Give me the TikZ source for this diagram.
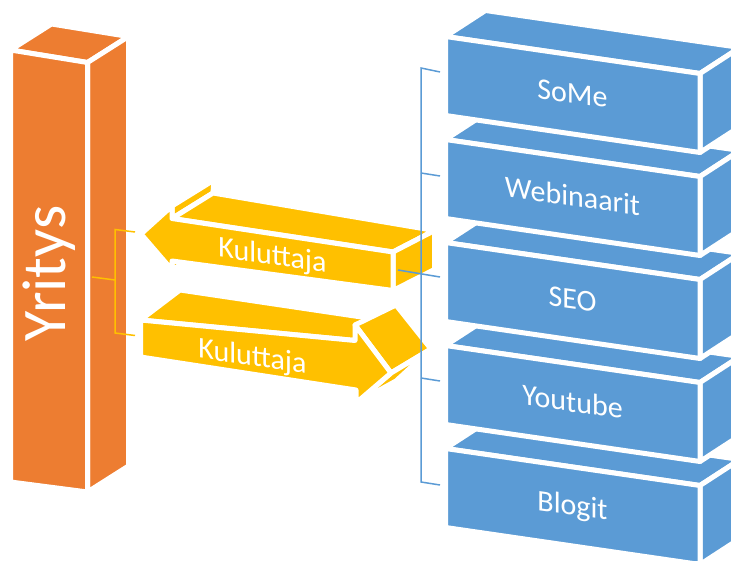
\documentclass[tikz,border=0pt]{standalone}
\usepackage{fontspec}
\setmainfont{Carlito}
\definecolor{pillar}{HTML}{ED7D31}
\definecolor{boxblue}{HTML}{5B9BD5}
\definecolor{gold}{HTML}{FFC000}
\begin{document}
\begin{tikzpicture}[x=1pt,y=-1pt,
  face/.style={draw=white, line width=5pt, line join=round},
  lbl/.style={text=white, inner sep=0pt, anchor=base},
  boxfont/.style={font=\fontsize{30}{36}\selectfont},
  bracket/.style={line width=1.5pt},
]
\useasboundingbox (0,0) rectangle (731,561);
\clip (0,0) rectangle (731,561);

% ---- company pillar (top, right side, front)
\path[face, fill=pillar] (10.5,50) -- (87.5,62.5) -- (128.5,36.5) -- (51.5,24) -- cycle;
\path[face, fill=pillar] (87.5,62.5) -- (128.5,36.5) -- (128.5,466) -- (87.5,492) -- cycle;
\path[face, fill=pillar] (10.5,50) -- (87.5,62.5) -- (87.5,492) -- (10.5,482) -- cycle;
\node[lbl, font=\fontsize{62}{70}\selectfont, rotate=90] (yritys) at (65,273.5) {Yritys};

% ---- stack of channel boxes, drawn from the bottom up
\foreach \i in {4,3,2,1,0} {
  \pgfmathsetmacro\t{36.5+103*\i}
  \path[face, fill=boxblue] (445.5,\t) -- (700,\t+37) -- (740,\t+11) -- (485.5,\t-26) -- cycle;
  \path[face, fill=boxblue] (700,\t+37) -- (740,\t+11) -- (740,\t+90) -- (700,\t+116) -- cycle;
  \path[face, fill=boxblue] (445.5,\t) -- (700,\t+37) -- (700,\t+116) -- (445.5,\t+79) -- cycle;
}
\foreach \i/\txt in {0/SoMe,1/Webinaarit,2/SEO,3/Youtube,4/Blogit} {
  \node[lbl, boxfont, yslant=-0.14] (ch\i) at (572.5,103+103*\i) {\txt};
}

% ---- bracket on the company side
\coordinate (oa) at (135,232);
\coordinate (ob) at (115,229.5);
\coordinate (oc) at (115,333);
\coordinate (od) at (135,335.5);
\coordinate (om) at (115,280);
\coordinate (oe) at (92,277);
\draw[gold, bracket] (oa) -- (ob) -- (oc) -- (od);
\draw[gold, bracket] (oe) -- (om);

% ---- lower arrow, pointing right
\path[face, fill=gold] (140.5,320) -- (355,340.5) -- (395,322) -- (180,290) -- cycle;        % top
\path[face, fill=gold] (355,325) -- (391,373) -- (431,349) -- (396,305) -- cycle;           % head, upper slope
\path[face, fill=gold] (391,373) -- (356,403) -- (396,381) -- (431,349) -- cycle;           % head, lower slope
\path[face, fill=gold] (140.5,320) -- (355,340.5) -- (355,325) -- (391,373) -- (356,403)
                       -- (356,390) -- (140.5,357) -- cycle;                                 % front
\node[lbl, boxfont, yslant=-0.14] (kul2) at (252.5,365.5) {Kuluttaja};

% ---- upper arrow, pointing left
\path[face, fill=gold] (172,206) -- (172,218.5) -- (213,193) -- (214,180) -- cycle;         % head back, top
\path[face, fill=gold] (172,261) -- (172,270) -- (212,245) -- (212,236) -- cycle;           % head back, bottom
\path[face, fill=gold] (172,218.5) -- (393,252) -- (434.5,230.5) -- (213,193) -- cycle;     % top
\path[face, fill=gold] (393,252) -- (393,290.5) -- (434.5,269.5) -- (434.5,230.5) -- cycle; % end
\path[face, fill=gold] (141,234) -- (172,206) -- (172,218.5) -- (393,252) -- (393,290.5)
                       -- (172,261) -- (172,270) -- cycle;                                   % front
\node[lbl, boxfont, yslant=-0.14] (kul1) at (272.5,264.5) {Kuluttaja};

% ---- bracket on the channel side
\coordinate (b0) at (421,68);   \coordinate (t0) at (440,72);
\coordinate (b1) at (421,173);  \coordinate (t1) at (440,176);
\coordinate (b2l) at (398,270); \coordinate (t2) at (440,277);
\coordinate (b3) at (421,378);  \coordinate (t3) at (440,381);
\coordinate (b4) at (421,482);  \coordinate (t4) at (440,485);
\draw[boxblue, bracket] (t0) -- (b0) -- (b4) -- (t4);
\draw[boxblue, bracket] (b1) -- (t1);
\draw[boxblue, bracket] (b2l) -- (t2);
\draw[boxblue, bracket] (b3) -- (t3);
\end{tikzpicture}
\end{document}
